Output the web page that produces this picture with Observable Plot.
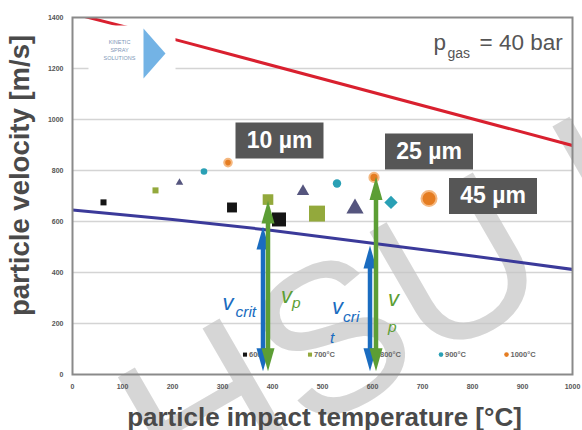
<!DOCTYPE html>
<html><head><meta charset="utf-8">
<script src="https://cdn.jsdelivr.net/npm/d3@7"></script>
<script src="https://cdn.jsdelivr.net/npm/@observablehq/plot@0.6"></script>
<style>html,body{margin:0;padding:0;background:#fff;} #chart svg{display:block}</style>
</head><body><div id="chart"></div>
<script>
// ---- data ----
const gasTemps = ["600°C","700°C","800°C","900°C","1000°C"];
const seriesNames = ["10 µm","25 µm","45 µm"];
const impactT10 = [62,166,214,263,311];
const velocity10 = [675,722,753,796,831];
const impactT25 = [319,391,461,529,603];
const velocity25 = [655,686,718,749,773];
const impactT45 = [413,489,565,637,713];
const velocity45 = [608,631,651,675,690];
const symbols10 = ["square","square","triangle","circle","circle"];
const symbols25 = ["square","square","triangle","circle","circle"];
const symbols45 = ["square","square","triangle","diamond2","circle"];
const legendSymbols = ["square","square","triangle","circle","circle"];
const redT = [0,200,1000];
const redV = [1416,1316,898];
const blueT = [0,200,400,600,800,1000];
const blueV = [645,608,565,515,465,412];
const arrowT = [381,391,595,607];
const arrowV = [580,682,506,775];
const arrowKind = ["crit","p","crit","p"];
const arrowBase = 13;
const sizeLabelT = [414,713,841];
const sizeLabelV = [918,875,700];
const legendT = [345,475,607,737,868];
const legendV = 78;
const xTicks = [0,100,200,300,400,500,600,700,800,900,1000];
const yTicks = [0,200,400,600,800,1000,1200,1400];
const gridTicks = [200,400,600,800,1000,1200];
const vLabelText = ["v","crit","v","p","v","cri","t","v","p"];
const vLabelT = [300,326,417,439,519,541,515,631,631];
const vLabelV = [251,224,282,259,239,204,122,267,165];
const vLabelKind = ["crit","crit","p","p","crit","crit","crit","p","p"];
const vLabelRole = ["main","sub","main","sub","main","sub","sub","main","sub"];
const logoLines = ["KINETIC","SPRAY","SOLUTIONS"];

// ---- styles ----
const tempColors = ["#151515","#93a93c","#55557e","#2aa0b5","#e57d22"];
const rStyle = {"10 µm":[3.4,3.4,2.8,3.3,3.8], "25 µm":[5.6,6,4.6,4.2,4.6], "45 µm":[7.9,9,6.4,6,7.5]};
const kindColor = {crit:"#1a6cc0", p:"#5c9e35"};
const font = "Liberation Sans, Arial, Helvetica, sans-serif";

// ---- tables ----
const seriesT = [impactT10, impactT25, impactT45];
const seriesV = [velocity10, velocity25, velocity45];
const seriesS = [symbols10, symbols25, symbols45];
const points = [];
seriesNames.forEach((s, k) => {
  seriesT[k].forEach((t, i) => points.push({series: s, t, v: seriesV[k][i], temp: gasTemps[i], symbol: seriesS[k][i], r: rStyle[s][i]}));
});
const red = redT.map((t, i) => ({t, v: redV[i]}));
const blue = blueT.map((t, i) => ({t, v: blueV[i]}));
const arrows = arrowT.map((t, i) => ({t, v: arrowV[i], kind: arrowKind[i]}));
const boxes = sizeLabelT.map((t, i) => ({t, v: sizeLabelV[i], label: seriesNames[i]}));
const legend = gasTemps.map((g, i) => ({t: legendT[i], v: legendV, temp: g, symbol: legendSymbols[i]}));
const vLabels = vLabelText.map((text, i) => ({text, t: vLabelT[i], v: vLabelV[i], kind: vLabelKind[i], role: vLabelRole[i]}));

// custom shapes
const headUp = {draw(c){ c.moveTo(0,0); c.lineTo(6.5,23); c.lineTo(-6.5,23); c.closePath(); }};
const headDown = {draw(c){ c.moveTo(0,0); c.lineTo(6.5,-23); c.lineTo(-6.5,-23); c.closePath(); }};
const boxSym = {draw(c){ c.rect(-44,-18,88,36); }};
const logoBox = {draw(c){ c.rect(0,0,87,53); }};
const logoTri = {draw(c){ c.moveTo(0,0); c.lineTo(0,50); c.lineTo(22,25); c.closePath(); }};

const chart = Plot.plot({
  width: 582, height: 430,
  marginLeft: 72, marginRight: 10, marginTop: 17, marginBottom: 56,
  style: {fontFamily: font, background: "#fff"},
  x: {domain: [0, 1000]},
  y: {domain: [0, 1400]},
  color: {domain: gasTemps, range: tempColors},
  r: {type: "identity"},
  marks: [
    Plot.gridY(gridTicks, {stroke: "#d4d4d4", strokeOpacity: 1, strokeWidth: 1.5}),
    Plot.text(["HSU H"], {frameAnchor: "top-left", dx: 352, dy: 272, rotate: -30, text: d => d,
      fontSize: 210, fill: "#c4c4c4", fillOpacity: 0.7, textAnchor: "middle", lineAnchor: "middle"}),
    Plot.line(red, {x: "t", y: "v", stroke: "#d9202f", strokeWidth: 3, clip: true}),
    Plot.line(blue, {x: "t", y: "v", stroke: "#3b3a9a", strokeWidth: 3, clip: true}),
    Plot.frame({stroke: "#8a8a8a", strokeWidth: 2}),
    Plot.axisY(yTicks, {tickSize: 0, tickPadding: 9, fontSize: 7, fontWeight: "bold", color: "#555", tickFormat: d => String(d), label: null}),
    Plot.axisX(xTicks, {tickSize: 0, tickPadding: 10, fontSize: 7, fontWeight: "bold", color: "#555", tickFormat: d => String(d), label: null}),
    // logo
    Plot.dot([0], {frameAnchor: "top-left", dx: 16, dy: 8, symbol: logoBox, fill: "#fff"}),
    Plot.dot([0], {frameAnchor: "top-left", dx: 71, dy: 11, symbol: logoTri, fill: "#5aa6e0", fillOpacity: 0.85}),
    ...logoLines.map((line, i) => Plot.text([line], {frameAnchor: "top-left", dx: 47, dy: 26 + 8 * i, text: d => d,
      fontSize: 5.5, fill: "#8098b8", textAnchor: "middle", lineAnchor: "bottom"})),
    // data points
    Plot.dot(points, {x: "t", y: "v", fill: "temp", symbol: "symbol", r: "r",
      stroke: d => d.temp === "1000°C" ? "#f5b880" : "none", strokeWidth: 2}),
    // legend
    Plot.dot(legend, {x: "t", y: "v", fill: "temp", symbol: "symbol", r: 2.3}),
    Plot.text(legend, {x: "t", y: "v", text: "temp", dx: 4, textAnchor: "start", fontSize: 7.5, fontWeight: "bold", fill: "#666"}),
    // size boxes
    Plot.dot(boxes, {x: "t", y: "v", symbol: boxSym, fill: "#565656"}),
    Plot.text(boxes, {x: "t", y: "v", text: "label", fill: "#fff", fontSize: 23, fontWeight: "bold", lineAnchor: "middle"}),
    // pgas
    Plot.text(["p"], {frameAnchor: "top-left", dx: 361, dy: 32, text: d => d, fontSize: 22.5, fill: "#555", textAnchor: "start", lineAnchor: "bottom"}),
    Plot.text(["gas"], {frameAnchor: "top-left", dx: 375, dy: 40, text: d => d, fontSize: 14, fill: "#555", textAnchor: "start", lineAnchor: "bottom"}),
    Plot.text(["= 40 bar"], {frameAnchor: "top-left", dx: 407, dy: 32, text: d => d, fontSize: 22.5, fill: "#555", textAnchor: "start", lineAnchor: "bottom"}),
    // arrows
    ...["crit","p"].flatMap(k => {
      const a = arrows.filter(d => d.kind === k);
      return [
        Plot.ruleX(a, {x: "t", y1: "v", y2: arrowBase, stroke: kindColor[k], strokeWidth: 4.5, insetTop: 20, insetBottom: 20}),
        Plot.dot(a, {x: "t", y: "v", symbol: headUp, fill: kindColor[k]}),
        Plot.dot(a, {x: "t", y: arrowBase, symbol: headDown, fill: kindColor[k]})
      ];
    }),
    // v labels
    Plot.text(vLabels.filter(d => d.role === "main"), {x: "t", y: "v", text: "text", fill: d => kindColor[d.kind],
      fontSize: 22, fontStyle: "italic", textAnchor: "start", lineAnchor: "bottom"}),
    Plot.text(vLabels.filter(d => d.role === "sub"), {x: "t", y: "v", text: "text", fill: d => kindColor[d.kind],
      fontSize: 15.5, fontStyle: "italic", textAnchor: "start", lineAnchor: "bottom"}),
    // axis titles
    Plot.text(["particle velocity [m/s]"], {frameAnchor: "top-left", dx: -52, dy: 158, rotate: -90, text: d => d,
      fontSize: 27.5, fontWeight: "bold", fill: "#4a4a4a", textAnchor: "middle", lineAnchor: "middle"}),
    Plot.text(["particle impact temperature [°C]"], {frameAnchor: "top-left", dx: 252, dy: 408, text: d => d,
      fontSize: 26, fontWeight: "bold", fill: "#4a4a4a", textAnchor: "middle", lineAnchor: "bottom"})
  ]
});
document.getElementById("chart").appendChild(chart);
</script>
</body></html>
